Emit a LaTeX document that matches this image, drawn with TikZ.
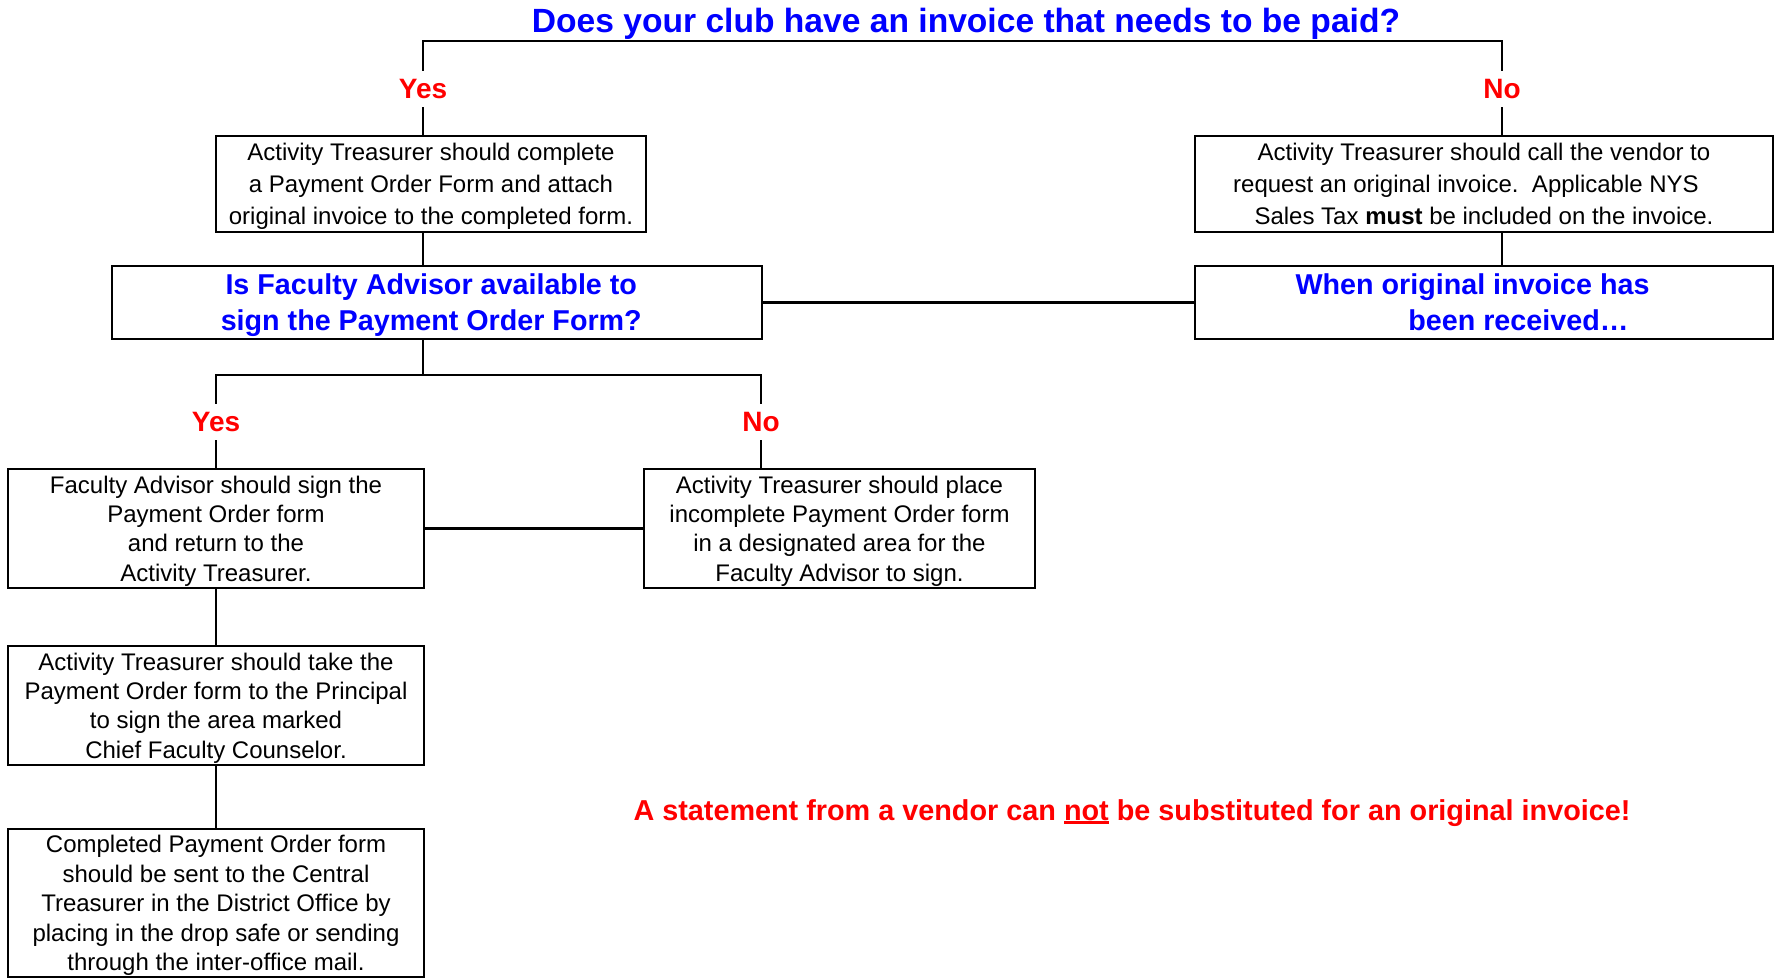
\documentclass[tikz,border=0pt]{standalone}
\usepackage{fontspec}
\setmainfont{Liberation Sans}
\definecolor{askblue}{RGB}{0,0,255}
\definecolor{warnred}{RGB}{255,0,0}
\newcommand{\redline}[1]{\setbox0=\hbox{#1}\rlap{\rule[-4pt]{\wd0}{2.6pt}}\box0\relax}

\begin{document}
\begin{tikzpicture}[x=1pt, y=-1pt,
    box/.style={draw, line width=2.2pt, align=flush center, inner sep=0pt, font=\fontsize{24}{32}\selectfont,
        execute at begin node={\rule{0pt}{1em}}, execute at end node={\rule[-0.28em]{0pt}{0.28em}}},
    tallbox/.style={box, text width=416pt, font=\fontsize{24}{29.4}\selectfont},
    ask/.style={box, text=askblue, font=\bfseries\fontsize{28.7}{36}\selectfont},
    answer/.style={text=warnred, font=\bfseries\fontsize{28}{28}\selectfont, inner xsep=2pt, inner ysep=8.5pt},
    link/.style={line width=2.2pt}]
    \useasboundingbox (0,0) rectangle (1779,979);

    % TOP: the question and its two answers
    \node[anchor=base, text=askblue, font=\bfseries\fontsize{33.6}{33.6}\selectfont] (question) at (966,33)
        {Does your club have an invoice that needs to be paid?};
    \coordinate (fork1) at (963,41);
    \node[answer] (yes1) at (423,89) {Yes};
    \node[answer] (no1) at (1502,89) {No};

    % LEFT: invoice in hand
    \node[box, text width=430pt, minimum height=96pt] (pay) at (431,184)
        {Activity Treasurer should complete\\ a Payment Order Form and attach\\ original invoice to the completed form.};
    \node[ask, text width=650pt, minimum height=73pt] (advisor) at (437,302.5)
        {Is Faculty Advisor available to\makebox[0.4em]{}\\ sign the Payment Order Form?\makebox[0.4em]{}};

    % RIGHT: no invoice yet
    \node[box, text width=578pt, minimum height=96pt] (call) at (1484,184)
        {Activity Treasurer should call the vendor to\\ request an original invoice.\ \ Applicable NYS\makebox[1.5em]{}\\ Sales Tax \textbf{must} be included on the invoice.};
    \node[ask, text width=578pt, minimum height=73pt] (received) at (1484,302.5)
        {When original invoice has\makebox[0.8em]{}\\ \hspace*{2.4em}been received\dots};

    % MIDDLE: is the advisor there?
    \coordinate (fork2) at (423,375);
    \node[answer] (yes2) at (216,422) {Yes};
    \node[answer] (no2) at (761,422) {No};
    \node[tallbox, minimum height=119pt] (sign) at (216,528.5)
        {Faculty Advisor should sign the\\ Payment Order form\\ and return to the\\ Activity Treasurer.};
    \node[tallbox, text width=391pt, minimum height=119pt] (place) at (839.5,528.5)
        {Activity Treasurer should place\\ incomplete Payment Order form\\ in a designated area for the\\ Faculty Advisor to sign.};
    \node[tallbox, minimum height=119pt] (principal) at (216,705.5)
        {Activity Treasurer should take the\\ Payment Order form to the Principal\\ to sign the area marked\\ Chief Faculty Counselor.};
    \node[tallbox, minimum height=148pt] (send) at (216,903)
        {Completed Payment Order form\\ should be sent to the Central\\ Treasurer in the District Office by\\ placing in the drop safe or sending\\ through the inter-office mail.};

    % Warning
    \node[anchor=base, text=warnred, font=\bfseries\fontsize{28.8}{28.8}\selectfont] (warning) at (1132,820)
        {A statement from a vendor can \redline{not} be substituted for an original invoice!};

    % Connectors
    \draw[link] (yes1.north) |- (fork1) -| (no1.north);
    \draw[link] (yes1.south) -- (yes1 |- pay.north);
    \draw[link] (no1.south) -- (no1 |- call.north);
    \draw[link] (yes1 |- pay.south) -- (yes1 |- advisor.north);
    \draw[link] (no1 |- call.south) -- (no1 |- received.north);
    \draw[link] (advisor.east) -- (received.west);
    \draw[link] (fork2 |- advisor.south) -- (fork2);
    \draw[link] (yes2.north) |- (fork2) -| (no2.north);
    \draw[link] (yes2.south) -- (sign.north);
    \draw[link] (no2.south) -- (no2 |- place.north);
    \draw[link] (sign.east) -- (place.west);
    \draw[link] (sign.south) -- (principal.north);
    \draw[link] (principal.south) -- (send.north);
\end{tikzpicture}
\end{document}
